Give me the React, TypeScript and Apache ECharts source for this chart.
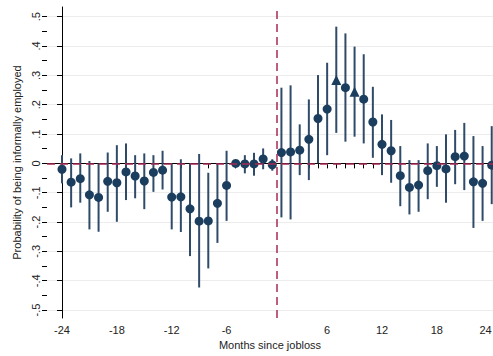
import React, { useEffect, useRef } from "react";
import * as echarts from "echarts";

// Months relative to job loss (month 0 is the omitted reference period)
const months = [
  -24, -23, -22, -21, -20, -19, -18, -17, -16, -15, -14, -13,
  -12, -11, -10, -9, -8, -7, -6, -5, -4, -3, -2, -1,
  1, 2, 3, 4, 5, 6, 7, 8, 9, 10, 11, 12,
  13, 14, 15, 16, 17, 18, 19, 20, 21, 22, 23, 24,
];

const coef = [
  -0.020, -0.064, -0.052, -0.107, -0.116, -0.061, -0.066, -0.029, -0.043, -0.060, -0.031, -0.023,
  -0.115, -0.114, -0.155, -0.197, -0.196, -0.136, -0.075, 0.000, -0.002, -0.002, 0.015, -0.005,
  0.037, 0.039, 0.045, 0.082, 0.153, 0.185, 0.284, 0.258, 0.244, 0.219, 0.141, 0.065,
  0.043, -0.042, -0.082, -0.074, -0.025, -0.008, -0.019, 0.023, 0.025, -0.063, -0.068, -0.006,
];

const ciHigh = [
  0.028, 0.017, 0.034, 0.008, 0.000, 0.037, 0.062, 0.068, 0.028, 0.034, 0.028, 0.043,
  0.000, 0.014, 0.000, 0.032, -0.032, 0.000, 0.043, 0.008, 0.028, 0.036, 0.051, 0.014,
  0.258, 0.266, 0.133, 0.218, 0.301, 0.343, 0.466, 0.443, 0.398, 0.372, 0.261, 0.167,
  0.148, 0.059, 0.011, 0.011, 0.068, 0.059, 0.099, 0.114, 0.138, 0.093, 0.059, 0.127,
];

const ciLow = [
  -0.068, -0.150, -0.134, -0.225, -0.233, -0.165, -0.199, -0.125, -0.119, -0.156, -0.097, -0.089,
  -0.225, -0.234, -0.316, -0.423, -0.358, -0.271, -0.196, -0.008, -0.034, -0.042, -0.020, -0.025,
  -0.184, -0.191, -0.040, -0.057, 0.000, 0.028, 0.104, 0.074, 0.091, 0.068, 0.019, -0.040,
  -0.066, -0.146, -0.174, -0.165, -0.122, -0.080, -0.134, -0.071, -0.091, -0.220, -0.196, -0.139,
];

const triangleMonths = [7, 9];
const xLabelMonths = [-24, -18, -12, -6, 6, 12, 18, 24];
const yMajorTicks = [-0.5, -0.4, -0.3, -0.2, -0.1, 0, 0.1, 0.2, 0.3, 0.4, 0.5];
const yMinorTicks = [
  -0.5, -0.45, -0.4, -0.35, -0.3, -0.25, -0.2, -0.15, -0.1, -0.05, 0,
  0.05, 0.1, 0.15, 0.2, 0.25, 0.3, 0.35, 0.4, 0.45, 0.5,
];

const FONT = "'Liberation Sans', Arial, sans-serif";
const NAVY = "#1b3d5e";
const BAR = "#2f4b69";
const RED = "#a82a55";

function fmtY(v: number): string {
  if (Math.abs(v) < 1e-9) return "0";
  const s = Math.abs(v).toFixed(1).replace(/^0/, "");
  return (v < 0 ? "-" : "") + s;
}

export default function App() {
  const ref = useRef<HTMLDivElement>(null);

  useEffect(() => {
    if (!ref.current) return;
    const chart = echarts.init(ref.current, null, { renderer: "svg" });

    const idx = months.map((_, i) => i);
    const labelIdx = xLabelMonths.map((m) => months.indexOf(m));
    const zeroLineX = (months.indexOf(-1) + months.indexOf(1)) / 2;

    chart.setOption({
      animation: false,
      backgroundColor: "#ffffff",
      textStyle: { fontFamily: FONT },
      grid: {
        left: 47,
        right: 0,
        top: 7,
        bottom: 38,
        containLabel: false,
        outerBoundsMode: "none",
      },
      xAxis: {
        type: "value",
        min: -1.64,
        max: 47.14,
        name: "Months since jobloss",
        nameLocation: "middle",
        nameGap: 21,
        nameTextStyle: { fontSize: 11, color: "#222", fontFamily: FONT },
        axisLine: { show: true, lineStyle: { color: "#000", width: 1 } },
        axisTick: { show: true, length: 5, customValues: idx, lineStyle: { color: "#000" } },
        axisLabel: {
          show: true,
          customValues: labelIdx,
          formatter: (v: number) => String(months[Math.round(v)]),
          fontSize: 11,
          color: "#222",
          margin: 6,
          fontFamily: FONT,
          hideOverlap: false,
          alignMaxLabel: "right",
        },
        splitLine: { show: false },
      },
      yAxis: [
        {
          type: "value",
          min: -0.527,
          max: 0.533,
          name: "Probability of being informally employed",
          nameLocation: "middle",
          nameGap: 25,
          nameTextStyle: { fontSize: 11, color: "#222", fontFamily: FONT },
          axisLine: { show: true, lineStyle: { color: "#000", width: 1 } },
          axisTick: { show: true, length: 5, customValues: yMajorTicks, lineStyle: { color: "#000" } },
          axisLabel: {
            show: true,
            customValues: yMajorTicks,
            rotate: 90,
            formatter: fmtY,
            fontSize: 11,
            color: "#222",
            margin: 6,
            fontFamily: FONT,
          },
          splitLine: { show: true, lineStyle: { color: "#ececec", width: 1 } },
        },
        {
          type: "value",
          min: -0.527,
          max: 0.533,
          position: "left",
          axisLine: { show: false },
          axisTick: { show: true, length: 5, customValues: yMinorTicks, lineStyle: { color: "#000" } },
          axisLabel: { show: false },
          splitLine: { show: false },
        },
      ],
      series: [
        {
          type: "custom",
          z: 2,
          renderItem: (params: any, api: any) => {
            const x = api.value(0);
            const lo = api.coord([x, api.value(1)]);
            const hi = api.coord([x, api.value(2)]);
            return {
              type: "line",
              shape: { x1: lo[0], y1: lo[1], x2: hi[0], y2: hi[1] },
              style: { stroke: BAR, lineWidth: 2 },
            };
          },
          encode: { x: 0, y: [1, 2] },
          data: months.map((_, i) => [i, ciLow[i], ciHigh[i]]),
        },
        {
          type: "scatter",
          z: 3,
          symbolSize: 9,
          itemStyle: { color: NAVY, opacity: 1 },
          data: months.map((m, i) => ({
            value: [i, coef[i]],
            symbol: triangleMonths.includes(m) ? "triangle" : "circle",
            symbolSize: triangleMonths.includes(m) ? 10 : 9,
          })),
          markLine: {
            silent: true,
            symbol: ["none", "none"],
            label: { show: false },
            lineStyle: { color: RED, type: [8, 5], width: 1.5 },
            data: [{ yAxis: 0 }, { xAxis: zeroLineX }],
          },
        },
      ],
    });

    return () => chart.dispose();
  }, []);

  return (
    <div
      ref={ref}
      style={{ position: "fixed", left: 0, top: 0, width: 493, height: 356, background: "#fff" }}
    />
  );
}
